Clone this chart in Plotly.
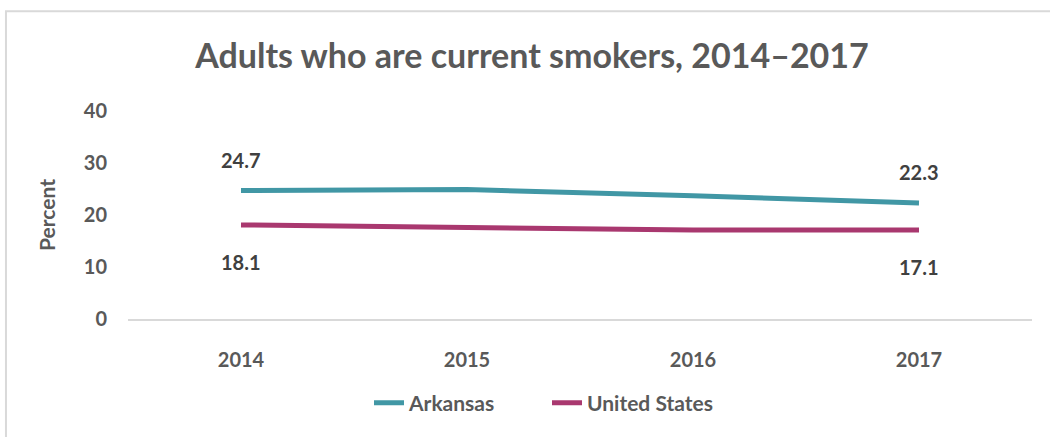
import plotly.graph_objects as go

# Smoking prevalence among adults, percent
years = ["2014", "2015", "2016", "2017"]
arkansas = [24.7, 24.9, 23.7, 22.3]
united_states = [18.1, 17.6, 17.1, 17.1]
y_ticks = [0, 10, 20, 30, 40]

TEAL = "#4197A5"
PLUM = "#A9386F"
GRAY = "#595959"
DARK = "#404040"
FONT = "Lato"

fig = go.Figure()
fig.add_trace(go.Scatter(x=years, y=arkansas, name="Arkansas", mode="lines",
                         line=dict(color=TEAL, width=5)))
fig.add_trace(go.Scatter(x=years, y=united_states, name="United States", mode="lines",
                         line=dict(color=PLUM, width=5)))

# value labels at the first and last year (category index on the x axis)
for i in (0, len(years) - 1):
    fig.add_annotation(x=i, y=arkansas[i], text=f"{arkansas[i]:.1f}",
                       showarrow=False, yshift=31,
                       font=dict(family=FONT, size=20, color=DARK, weight="bold"))
    fig.add_annotation(x=i, y=united_states[i], text=f"{united_states[i]:.1f}",
                       showarrow=False, yshift=-37,
                       font=dict(family=FONT, size=20, color=DARK, weight="bold"))

# chart frame
fig.add_shape(type="rect", xref="paper", yref="paper",
              x0=-0.135, x1=1.2, y0=-0.8, y1=1.479,
              line=dict(color="#D9D9D9", width=2), layer="below")

fig.update_layout(
    width=1050, height=437,
    margin=dict(l=128, r=18, t=111, b=118),
    paper_bgcolor="white", plot_bgcolor="white",
    title=dict(text="Adults who are current smokers, 2014–2017",
               x=532 / 1050, xanchor="center", y=1 - 56 / 437, yanchor="middle",
               font=dict(family=FONT, size=34, color=GRAY, weight="bold")),
    showlegend=True,
    legend=dict(orientation="h", x=(547 - 128) / 904, xanchor="center",
                y=(319 - 403) / 208, yanchor="middle",
                entrywidth=133, entrywidthmode="pixels",
                font=dict(family=FONT, size=21, color=GRAY, weight="bold"),
                bgcolor="rgba(0,0,0,0)"),
    xaxis=dict(type="category", range=[-0.5, 3.5], showgrid=False,
               showline=True, linecolor="#D9D9D9", linewidth=2,
               ticks="", ticklabelstandoff=22,
               tickfont=dict(family=FONT, size=20, color=GRAY, weight="bold")),
    yaxis=dict(range=[0, 40], tickvals=y_ticks, showgrid=False, zeroline=False,
               showline=False, ticks="", ticklabelstandoff=20,
               title=dict(text="Percent", standoff=22,
                          font=dict(family=FONT, size=21, color=GRAY, weight="bold")),
               tickfont=dict(family=FONT, size=20, color=GRAY, weight="bold")),
)

fig.write_html("out.html")
